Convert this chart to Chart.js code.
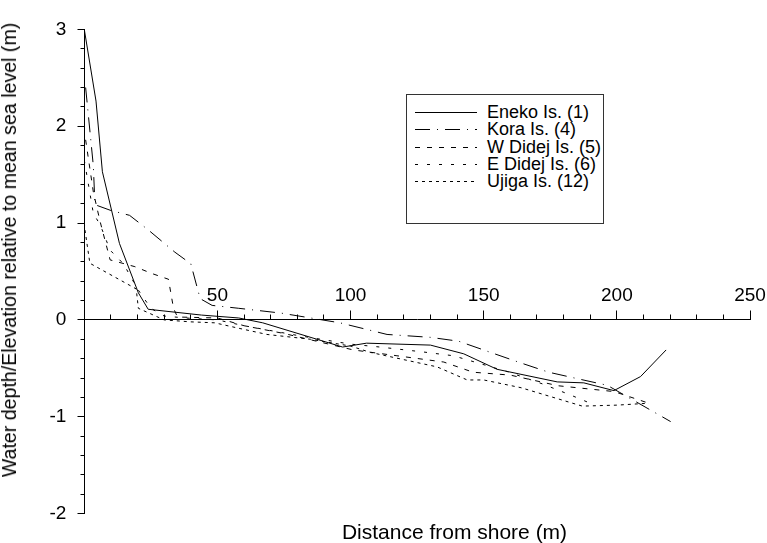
<!DOCTYPE html>
<html>
<head>
<meta charset="utf-8">
<script src="https://cdn.jsdelivr.net/npm/chart.js@4.4.1/dist/chart.umd.min.js"></script>
<style>
  html, body { margin: 0; padding: 0; background: #fff; }
  #wrap { position: relative; width: 767px; height: 543px; font-family: "Liberation Sans", Arial, sans-serif; color: #000; overflow: hidden; }
  #chart { position: absolute; left: 0; top: 0; }
  .axis-title { position: absolute; white-space: nowrap; }
  #xTitle { left: 454.5px; top: 521px; font-size: 21px; line-height: 21px; transform: translateX(-50%); }
  #yTitle { left: 9px; top: 249.5px; font-size: 19.6px; line-height: 20px; transform: translate(-50%, -50%) rotate(-90deg); }
  #legend { position: absolute; left: 406px; top: 94px; width: 196px; height: 128px; border: 1px solid #333; background: #fff; }
  .legend-row { position: absolute; left: 0; height: 18px; width: 100%; }
  .legend-row svg { position: absolute; left: 8px; top: 0; }
  .legend-row span { position: absolute; left: 80px; top: 0; font-size: 18px; line-height: 18px; white-space: nowrap; }
</style>
</head>
<body>
<div id="wrap">
  <canvas id="chart" width="767" height="543"></canvas>
  <div id="yTitle" class="axis-title">Water depth/Elevation relative to mean sea level (m)</div>
  <div id="xTitle" class="axis-title">Distance from shore (m)</div>
  <div id="legend"></div>
</div>
<script>
// profiles: [distance from shore (m), elevation (m)]
const eneko = [[0, 3.0], [4.4, 2.26], [6.8, 1.53], [13.2, 0.79], [20.3, 0.28], [24, 0.11], [44, 0.05], [58, 0.02], [67, -0.03],
  [97, -0.28], [106, -0.24], [130, -0.26], [142.5, -0.35], [155, -0.51], [177.6, -0.64], [187.6, -0.65], [198.9, -0.73],
  [208.9, -0.585], [218.5, -0.31]];
const kora = [[0.5, 2.4], [3.4, 1.59], [4, 1.19], [10, 1.13], [17, 1.08], [24, 0.93], [34, 0.70], [40, 0.58], [43.5, 0.22],
  [48, 0.15], [58, 0.12], [74, 0.07], [96, -0.03], [113.7, -0.15], [130, -0.18], [140.6, -0.22], [152, -0.33],
  [163.5, -0.44], [174.4, -0.54], [185.7, -0.61], [196.4, -0.675], [220.2, -1.05]];
const wDidej = [[0.5, 1.86], [3.4, 1.32], [5.9, 1.02], [9.7, 0.62], [19, 0.55], [25.3, 0.48], [31.6, 0.42], [33.5, 0.12],
  [35, 0.03], [50, 0.02], [60, -0.06], [75, -0.14], [101, -0.31], [117.4, -0.37], [135, -0.435], [146, -0.54],
  [160, -0.57], [178, -0.68], [199, -0.74], [212, -0.86]];
const eDidej = [[0, 1.65], [3.4, 1.10], [6, 0.98], [9.7, 0.72], [14.7, 0.58], [20, 0.32], [25, 0.12], [30, 0.04],
  [38, 0.02], [50, 0.0], [60, -0.06], [80, -0.16], [100, -0.25], [111, -0.28], [127, -0.33], [138.6, -0.37],
  [159, -0.535], [172, -0.66], [183, -0.78], [190, -0.86]];
const ujiga = [[0, 1.0], [0.3, 0.92], [2.1, 0.585], [19.5, 0.32], [20.3, 0.12], [30, 0.0], [40, -0.02], [49, -0.03],
  [57, -0.08], [68.6, -0.15], [85, -0.2], [100, -0.27], [107.4, -0.335], [132.5, -0.485], [143.8, -0.62], [150, -0.62],
  [164, -0.70], [187, -0.89], [200, -0.88], [212, -0.86]];

const seriesNames = ["Eneko Is. (1)", "Kora Is. (4)", "W Didej Is. (5)", "E Didej Is. (6)", "Ujiga Is. (12)"];
const seriesData = [eneko, kora, wDidej, eDidej, ujiga];

const xTicks = [0, 50, 100, 150, 200, 250];
const yTicks = [-2, -1, 0, 1, 2, 3];

// line styles, in the same order as the series
const lineDashes = [[], [15, 7, 1, 7], [5, 7], [3, 9], [3, 4]];

const xMinorTicks = [];
for (let v = 0; v <= 250; v += 10) xMinorTicks.push(v);
const yMinorTicks = [];
for (let i = -10; i <= 15; i++) yMinorTicks.push(i / 5);

const tickFont = { family: "'Liberation Sans', Arial, sans-serif", size: 19 };

const datasets = seriesData.map((pts, i) => ({
  label: seriesNames[i],
  data: pts.map(p => ({ x: p[0], y: p[1] })),
  borderColor: "#000",
  borderWidth: 1,
  borderDash: lineDashes[i],
  pointRadius: 0,
  tension: 0,
  fill: false,
}));

// major/minor tick marks: x ticks point up from the zero line, y ticks point left
const align = (p) => Math.round(p - 0.5) + 0.5;
const tickMarks = {
  id: "tickMarks",
  afterDraw(chart) {
    const ctx = chart.ctx;
    const xs = chart.scales.x;
    const ys = chart.scales.y;
    const x0 = align(xs.getPixelForValue(0));
    const y0 = align(ys.getPixelForValue(0));
    ctx.save();
    ctx.setLineDash([]);
    ctx.lineDashOffset = 0;
    ctx.strokeStyle = "#000";
    ctx.lineWidth = 1;
    ctx.beginPath();
    xMinorTicks.forEach(v => {
      const px = align(xs.getPixelForValue(v));
      ctx.moveTo(px, y0);
      ctx.lineTo(px, y0 - (xTicks.includes(v) ? 9 : 5));
    });
    yMinorTicks.forEach(v => {
      const py = align(ys.getPixelForValue(v));
      ctx.moveTo(x0, py);
      ctx.lineTo(x0 - (yTicks.includes(v) ? 7 : 4), py);
    });
    ctx.stroke();
    ctx.restore();
  },
};

new Chart(document.getElementById("chart").getContext("2d"), {
  type: "line",
  data: { datasets: datasets },
  plugins: [tickMarks],
  options: {
    responsive: false,
    animation: false,
    devicePixelRatio: 1,
    // y axis box is label width + 2 * tick padding wide, so this puts x = 0 at about 84px
    layout: { padding: { left: 31.4, right: 17, top: 19, bottom: 25 } },
    plugins: { legend: { display: false }, tooltip: { enabled: false } },
    scales: {
      x: {
        type: "linear", min: 0, max: 250,
        position: { y: 0 },
        afterBuildTicks: (s) => { s.ticks = xTicks.map(v => ({ value: v })); },
        ticks: { callback: (v) => (v === 0 ? "" : String(v)), font: tickFont, color: "#000", padding: -36, maxRotation: 0, autoSkip: false },
        grid: { display: false, drawTicks: false },
        border: { color: "#000", width: 1 },
      },
      y: {
        type: "linear", min: -2, max: 3,
        position: "left",
        afterBuildTicks: (s) => { s.ticks = yTicks.map(v => ({ value: v })); },
        ticks: { callback: (v) => String(v), font: tickFont, color: "#000", padding: 18, autoSkip: false },
        grid: { display: false, drawTicks: false },
        border: { color: "#000", width: 1 },
      },
    },
  },
});

// legend box with line samples
const legend = document.getElementById("legend");
seriesNames.forEach((name, i) => {
  const row = document.createElement("div");
  row.className = "legend-row";
  row.style.top = (8 + i * 17.3) + "px";
  const dash = lineDashes[i].length ? ` stroke-dasharray="${lineDashes[i].join(" ")}"` : "";
  row.innerHTML = `<svg width="62" height="18"><line x1="0" y1="9.5" x2="62" y2="9.5" stroke="#000" stroke-width="1"${dash}/></svg><span>${name}</span>`;
  legend.appendChild(row);
});
</script>
</body>
</html>
